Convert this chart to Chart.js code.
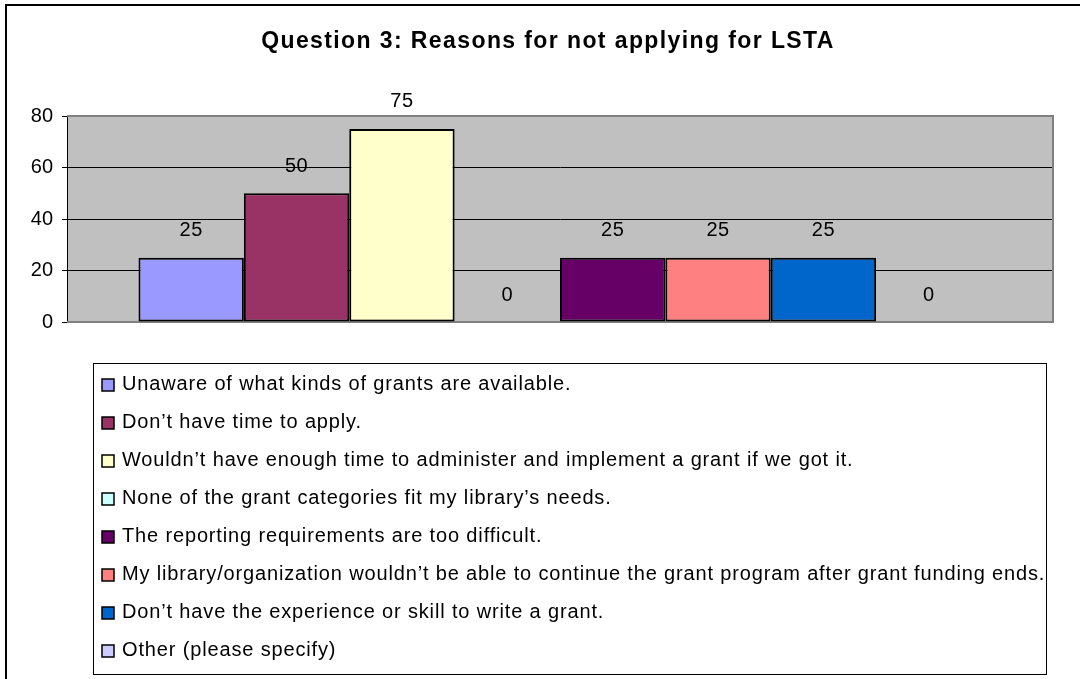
<!DOCTYPE html>
<html>
<head>
<meta charset="utf-8">
<script src="https://cdn.jsdelivr.net/npm/chart.js@4"></script>
<style>
  html, body { margin: 0; padding: 0; background: #fff; }
  #wrap { width: 1080px; height: 679px; position: relative; }
</style>
</head>
<body>
<div id="wrap"><canvas id="myChart" width="1080" height="679"></canvas></div>
<script>
const chartTitle = "Question 3: Reasons for not applying for LSTA";
const categories = [""];
const reasons = [
    "Unaware of what kinds of grants are available.",
    "Don’t have time to apply.",
    "Wouldn’t have enough time to administer and implement a grant if we got it.",
    "None of the grant categories fit my library’s needs.",
    "The reporting requirements are too difficult.",
    "My library/organization wouldn’t be able to continue the grant program after grant funding ends.",
    "Don’t have the experience or skill to write a grant.",
    "Other (please specify)",
];
const values = [25, 50, 75, 0, 25, 25, 25, 0];
const colors = ["#9999FF", "#993366", "#FFFFCC", "#CCFFFF", "#660066", "#FF8080", "#0066CC", "#CCCCFF"];
const yTicks = [0, 20, 40, 60, 80];

const font = "Arial, 'Liberation Sans', sans-serif";

const datasets = reasons.map((r, i) => ({
    label: r,
    data: [values[i]],
    backgroundColor: colors[i],
    borderColor: "#000",
    borderWidth: 2,
    borderSkipped: false,
}));

// gray plot area + border
const plotBg = {
    id: "plotBg",
    beforeDraw(chart) {
        const { ctx, chartArea: a } = chart;
        ctx.save();
        ctx.fillStyle = "#C0C0C0";
        ctx.fillRect(a.left, a.top, a.right - a.left, a.bottom - a.top);
        ctx.restore();
    },
    beforeDatasetsDraw(chart) {
        const { ctx, chartArea: a } = chart;
        ctx.save();
        ctx.strokeStyle = "#808080";
        ctx.lineWidth = 2;
        ctx.beginPath();
        ctx.moveTo(a.left, a.top);
        ctx.lineTo(a.right, a.top);
        ctx.lineTo(a.right, a.bottom);
        ctx.lineTo(a.left, a.bottom);
        ctx.stroke();
        ctx.restore();
    },
};

// value labels, title, legend box, outer frame
const extras = {
    id: "extras",
    afterDraw(chart) {
        const ctx = chart.ctx;
        ctx.save();
        // value labels
        ctx.fillStyle = "#000";
        ctx.font = "20px " + font;
        ctx.letterSpacing = "0.5px";
        ctx.textAlign = "center";
        ctx.textBaseline = "middle";
        chart.data.datasets.forEach((ds, i) => {
            const bar = chart.getDatasetMeta(i).data[0];
            ctx.fillText(String(ds.data[0]), bar.x, bar.y - 27);
        });

        // title
        ctx.font = "bold 23px " + font;
        ctx.letterSpacing = "1.4px";
        ctx.fillText(chartTitle, 548, 42);

        // outer frame
        ctx.strokeStyle = "#000";
        ctx.lineWidth = 2;
        ctx.beginPath();
        ctx.moveTo(6, 679);
        ctx.lineTo(6, 5);
        ctx.lineTo(1080, 5);
        ctx.stroke();

        // legend
        const lx = 93, ly = 363, lw = 953, lh = 311;
        ctx.strokeStyle = "#000";
        ctx.lineWidth = 1;
        ctx.strokeRect(lx + 0.5, ly + 0.5, lw, lh);
        ctx.font = "20px " + font;
        ctx.letterSpacing = "0.85px";
        ctx.textAlign = "left";
        chart.data.datasets.forEach((ds, i) => {
            const cy = 384 + i * 38;
            ctx.fillStyle = ds.backgroundColor;
            ctx.fillRect(102, cy - 5, 12, 12);
            ctx.strokeStyle = "#000";
            ctx.lineWidth = 1.5;
            ctx.strokeRect(102, cy - 5, 12, 12);
            ctx.fillStyle = "#000";
            ctx.fillText(ds.label, 122, cy);
        });
        ctx.restore();
    },
};

const config = {
    type: "bar",
    data: { labels: categories, datasets: datasets },
    options: {
        responsive: false,
        animation: false,
        layout: { padding: { top: 116, right: 27, bottom: 357, left: 0 } },
        datasets: { bar: { categoryPercentage: 0.855, barPercentage: 1 } },
        plugins: {
            legend: { display: false },
            title: { display: false },
            tooltip: { enabled: false },
        },
        scales: {
            x: { display: false },
            y: {
                min: 0,
                max: 80,
                afterFit(scale) { scale.width = 67; },
                afterBuildTicks(scale) { scale.ticks = yTicks.map(v => ({ value: v })); },
                ticks: { color: "#000", font: { size: 20, family: font }, padding: 9 },
                grid: {
                    color: "#000",
                    lineWidth: 1,
                    tickLength: 5,
                },
                border: { display: true, color: "#000", width: 1 },
            },
        },
    },
    plugins: [plotBg, extras],
};

const myChart = new Chart(document.getElementById("myChart"), config);
</script>
</body>
</html>
